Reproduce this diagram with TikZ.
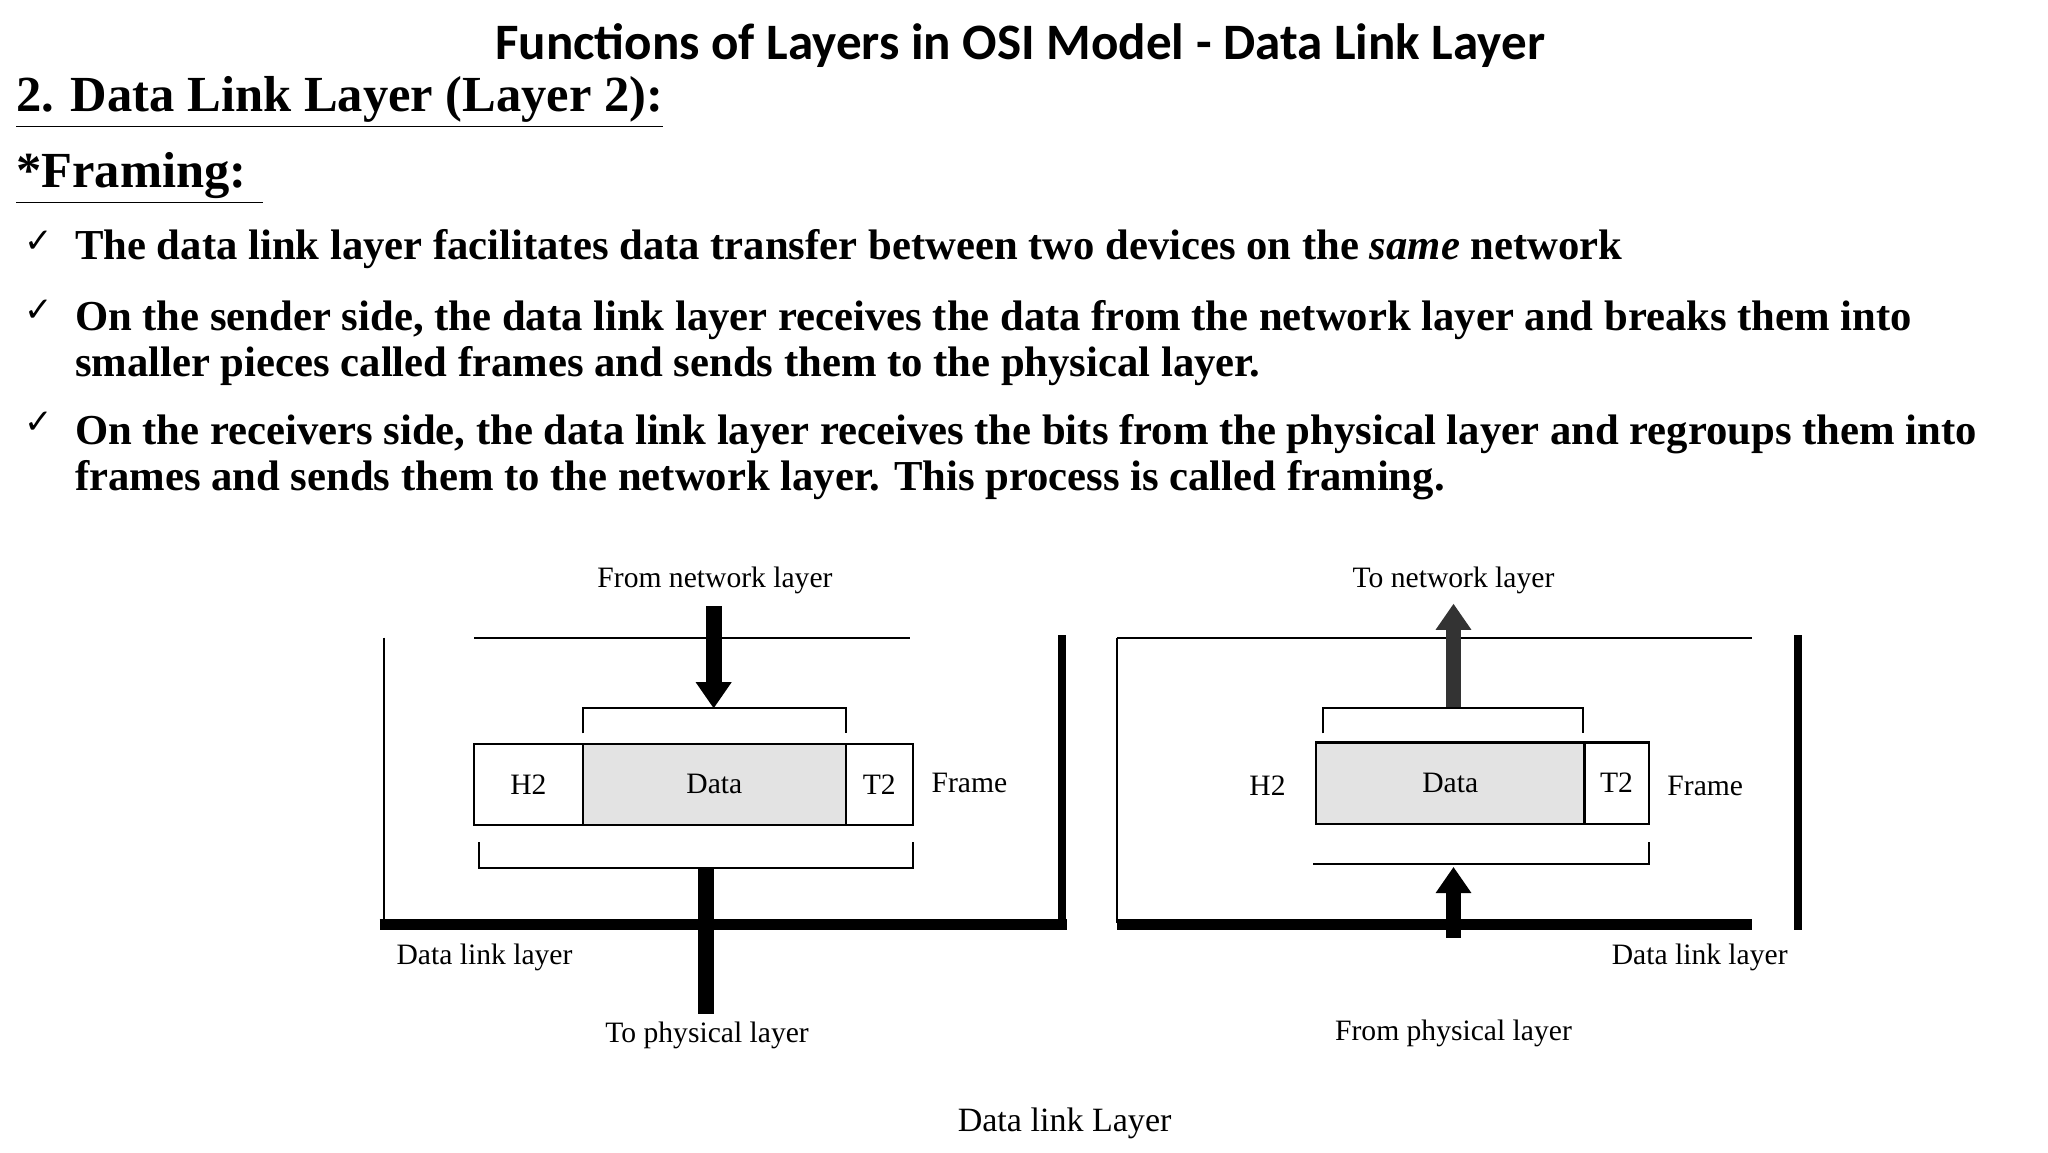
\documentclass[tikz,border=0pt]{standalone}
\usepackage{fontspec}
\setmainfont{Liberation Serif}
\newfontfamily\titlefont{Carlito}
\newfontfamily\symfont{DejaVu Sans}
\usetikzlibrary{arrows.meta}
\begin{document}
\begin{tikzpicture}[x=0.5pt,y=-0.5pt,
  body/.style={anchor=west,inner sep=0pt,font=\fontsize{16.3}{17.5}\selectfont\bfseries,align=left},
  chk/.style={anchor=west,inner sep=0pt,font=\symfont\fontsize{13}{16}\selectfont},
  lbl/.style={inner sep=0pt,font=\rmfamily\fontsize{11.3}{13}\selectfont},
  thin/.style={line width=0.8pt},
  thick/.style={line width=3pt},
  cell/.style={draw,thin,minimum height=31pt,inner sep=0pt,font=\fontsize{11.3}{13}\selectfont},
  fat/.style={line width=6pt,-{Triangle[width=13pt,length=10pt]}}]
\useasboundingbox (0,0) rectangle (1564,880);
\node[inner sep=0pt,font=\titlefont\fontsize{19.5}{22}\selectfont\bfseries] (title) at (779,35) {Functions of Layers in OSI Model - Data Link Layer};
\node[anchor=west,inner sep=0pt,font=\fontsize{19.3}{21}\selectfont\bfseries] (h1) at (12,78) {\underline{2. Data Link Layer (Layer 2):}};
\node[anchor=west,inner sep=0pt,font=\fontsize{19.3}{21}\selectfont\bfseries] (h2) at (12,136) {\underline{*Framing: }};
\node[chk] (c1) at (18,185) {✓};
\node[chk] (c2) at (18,237) {✓};
\node[chk] (c3) at (18,323) {✓};
\node[body] (b1) at (57,190) {The data link layer facilitates data transfer between two devices on the \textit{same} network};
\node[body,anchor=north west] (b2) at (57,229) {On the sender side, the data link layer receives the data from the network layer and breaks them into\\smaller pieces called frames and sends them to the physical layer.};
\node[body,anchor=north west] (b3) at (57,316) {On the receivers side, the data link layer receives the bits from the physical layer and regroups them into\\frames and sends them to the network layer. This process is called framing.};
% ---- left diagram
\draw[thin] (362,487) -- (695,487);
\draw[thin] (293,487) -- (293,705);
\draw[thick] (811,485) -- (811,709);
\draw[line width=4pt] (290,706) -- (815,706);
\node[lbl] (fn) at (546,443) {From network layer};
\node[cell,minimum width=41.5pt] (h2l) at (403.5,599) {H2};
\node[cell,minimum width=100.5pt,fill=gray!22] (dl) at (545.5,599) {Data};
\node[cell,minimum width=25.5pt] (t2l) at (671.5,599) {T2};
\node[lbl,anchor=west] (frl) at (711,598) {Frame};
\draw[thin] (445,560) -- (445,541) -- (646,541) -- (646,560);
\draw[thin] (366,643) -- (366,663) -- (697,663) -- (697,643);
\coordinate (al) at (545,463);
\coordinate (ale) at (545,541);
\draw[fat] (al) -- (ale);
\coordinate (pl) at (539,663);
\coordinate (ple) at (539,774);
\draw[line width=6pt] (pl) -- (ple);
\node[lbl] (dll) at (370,731) {Data link layer};
\node[lbl] (tpl) at (540,791) {To physical layer};
% ---- right diagram
\draw[thin] (853,487) -- (1338,487);
\draw[thin] (853,487) -- (853,705);
\draw[thick] (1373,485) -- (1373,710);
\draw[line width=4pt] (853,706) -- (1338,706);
\node[lbl] (tn) at (1110,443) {To network layer};
\node[lbl] (h2r) at (968,600) {H2};
\node[cell,minimum width=102.5pt,fill=gray!22] (dr) at (1107.5,598) {Data};
\node[cell,minimum width=24.5pt] (t2r) at (1234.5,598) {T2};
\node[lbl,anchor=west] (frr) at (1273,600) {Frame};
\draw[thin] (1010,560) -- (1010,541) -- (1209,541) -- (1209,560);
\draw[thin] (1003,660) -- (1259,660) -- (1259,643);
\coordinate (ar) at (1110,540);
\coordinate (are) at (1110,461);
\draw[fat,draw=black!80] (ar) -- (are);
\coordinate (br) at (1110,716);
\coordinate (bre) at (1110,662);
\draw[fat] (br) -- (bre);
\node[lbl] (dlr) at (1298,731) {Data link layer};
\node[lbl] (fpl) at (1110,789) {From physical layer};
\node[lbl,font=\rmfamily\fontsize{13}{15}\selectfont] (cap) at (813,858) {Data link Layer};
\end{tikzpicture}
\end{document}
